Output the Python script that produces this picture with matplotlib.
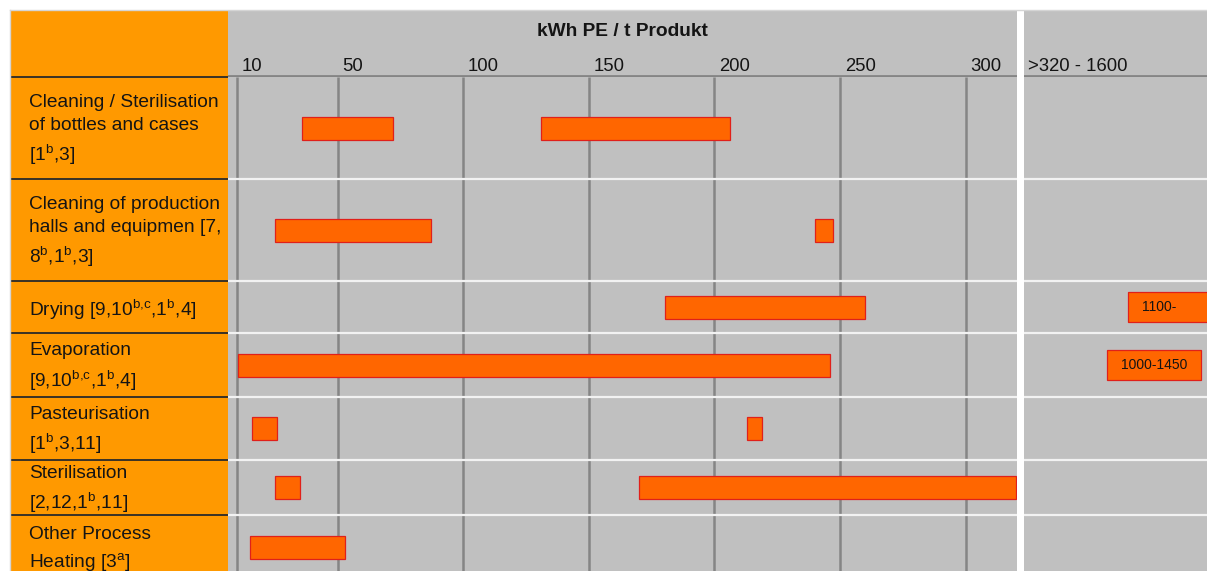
import numpy as np
import matplotlib
matplotlib.use('Agg')
import matplotlib.pyplot as plt
from matplotlib.lines import Line2D
from matplotlib.transforms import blended_transform_factory

plt.rcParams['font.family'] = ['Liberation Sans', 'DejaVu Sans']
plt.rcParams['mathtext.fontset'] = 'custom'
plt.rcParams['mathtext.rm'] = 'Liberation Sans'
plt.rcParams['mathtext.it'] = 'Liberation Sans'
plt.rcParams['mathtext.default'] = 'regular'

## data (kWh PE / t Produkt)
categories = [
    'Cleaning / Sterilisation\nof bottles and cases\n[1$^{b}$,3]',
    'Cleaning of production\nhalls and equipmen [7,\n8$^{b}$,1$^{b}$,3]',
    'Drying [9,10$^{b{,}c}$,1$^{b}$,4]',
    'Evaporation\n[9,10$^{b{,}c}$,1$^{b}$,4]',
    'Pasteurisation\n[1$^{b}$,3,11]',
    'Sterilisation\n[2,12,1$^{b}$,11]',
    'Other Process\nHeating [3$^{a}$]',
]
range1_start = [36, 25, 180.5, 10.5, 16, 25, 15]
range1_end = [72, 87, 260, 246, 26, 35, 53]
range2_start = [131, 240, np.nan, np.nan, 213, 170, np.nan]
range2_end = [206, 247, np.nan, np.nan, 219, 320, np.nan]
high_start = [np.nan, np.nan, 1100, 1000, np.nan, np.nan, np.nan]
high_end = [np.nan, np.nan, 1600, 1450, np.nan, np.nan, np.nan]
high_labels = ['', '', '1100-', '1000-1450', '', '', '']
ticks = [10, 50, 100, 150, 200, 250, 300]
axis_title = 'kWh PE / t Produkt'
high_title = '>320 - 1600'

## layout in pixels of the original picture
W, H = 1207, 571
row_edges = [77, 179, 281, 333, 397, 460, 515, 580]
row_mid = [(a + b) / 2 for a, b in zip(row_edges[:-1], row_edges[1:])]

ORANGE = '#FF9900'
GRAY = '#C0C0C0'
GRID = '#858585'
SEP = '#F2F2F2'
BAR = '#FF6600'
EDGE = '#E0201A'
TXT = '#141414'

fig = plt.figure(figsize=(W / 100, H / 100), dpi=100)


def box(x0, y0, x1, y1, fc):
    a = fig.add_axes([x0 / W, 1 - y1 / H, (x1 - x0) / W, (y1 - y0) / H])
    a.set_facecolor(fc)
    a.set_xticks([])
    a.set_yticks([])
    for s in a.spines.values():
        s.set_visible(False)
    return a


## left label column
lax = box(10, 10, 228, 571, ORANGE)
lax.set_xlim(10, 228)
lax.set_ylim(571, 10)
lax.hlines(row_edges[:-1], 10, 228, color='#2a2a2a', lw=1.3)
for mid, lab in zip(row_mid, categories):
    lax.text(29, mid + 2.5, lab, ha='left', va='center', fontsize=13.8,
             color=TXT, linespacing=1.5)

## main axis (10 - 320)
xmin, xmax = 6.4, 320.4
hax = box(228, 10, 1017, 77, GRAY)
hax.set_xlim(xmin, xmax)
hax.set_ylim(77, 10)
hax.axhline(76.2, color=GRID, lw=2)
for t in ticks:
    hax.annotate(str(t), xy=(t, 71), xytext=(3.4, 0), textcoords='offset points',
                 ha='left', va='baseline', fontsize=13.3, color=TXT)
tr = blended_transform_factory(hax.transAxes, hax.transData)
hax.text(0.5, 36, axis_title, transform=tr, ha='center', va='baseline',
         fontsize=13.8, fontweight='bold', color=TXT)

ax = box(228, 77, 1017, 571, GRAY)
ax.set_xlim(xmin, xmax)
ax.set_ylim(571, 77)
ax.vlines(ticks, 77, 571, color=GRID, lw=1.8, zorder=1)
ax.hlines(row_edges[1:-1], xmin, xmax, color=SEP, lw=1.6, zorder=2)
for starts, ends in [(range1_start, range1_end), (range2_start, range2_end)]:
    for mid, s, e in zip(row_mid, starts, ends):
        if np.isnan(s):
            continue
        ax.barh(mid, e - s, left=s, height=23, color=BAR, edgecolor=EDGE,
                lw=0.9, zorder=3)

## high range (>320)
rhax = box(1024, 10, 1207, 77, GRAY)
rhax.set_ylim(77, 10)
rhax.set_xlim(0, 1)
rhax.axhline(76.2, color=GRID, lw=2)
rhax.annotate(high_title, xy=(0, 71), xytext=(3, 0), textcoords='offset points',
              ha='left', va='baseline', fontsize=13.3, color=TXT)

rax = box(1024, 77, 1207, 571, GRAY)
rax.set_xlim(605, 1479)
rax.set_ylim(571, 77)
rax.hlines(row_edges[1:-1], 605, 1479, color=SEP, lw=1.6, zorder=2)
for mid, s, e, lab in zip(row_mid, high_start, high_end, high_labels):
    if np.isnan(s):
        continue
    rax.barh(mid, e - s, left=s, height=29.5, color=BAR, edgecolor=EDGE,
             lw=0.9, zorder=3)
    rax.annotate(lab, xy=(s, mid), xytext=(10.2, 0), textcoords='offset points',
                 ha='left', va='center', fontsize=10, color=TXT, zorder=4)

## thin outer border
fig.add_artist(Line2D([10 / W, 1], [1 - 9.5 / H] * 2, color='#D5D5D5', lw=1))
fig.add_artist(Line2D([9.5 / W] * 2, [0, 1 - 9.5 / H], color='#D5D5D5', lw=1))

fig.savefig('out.png', dpi=100)
